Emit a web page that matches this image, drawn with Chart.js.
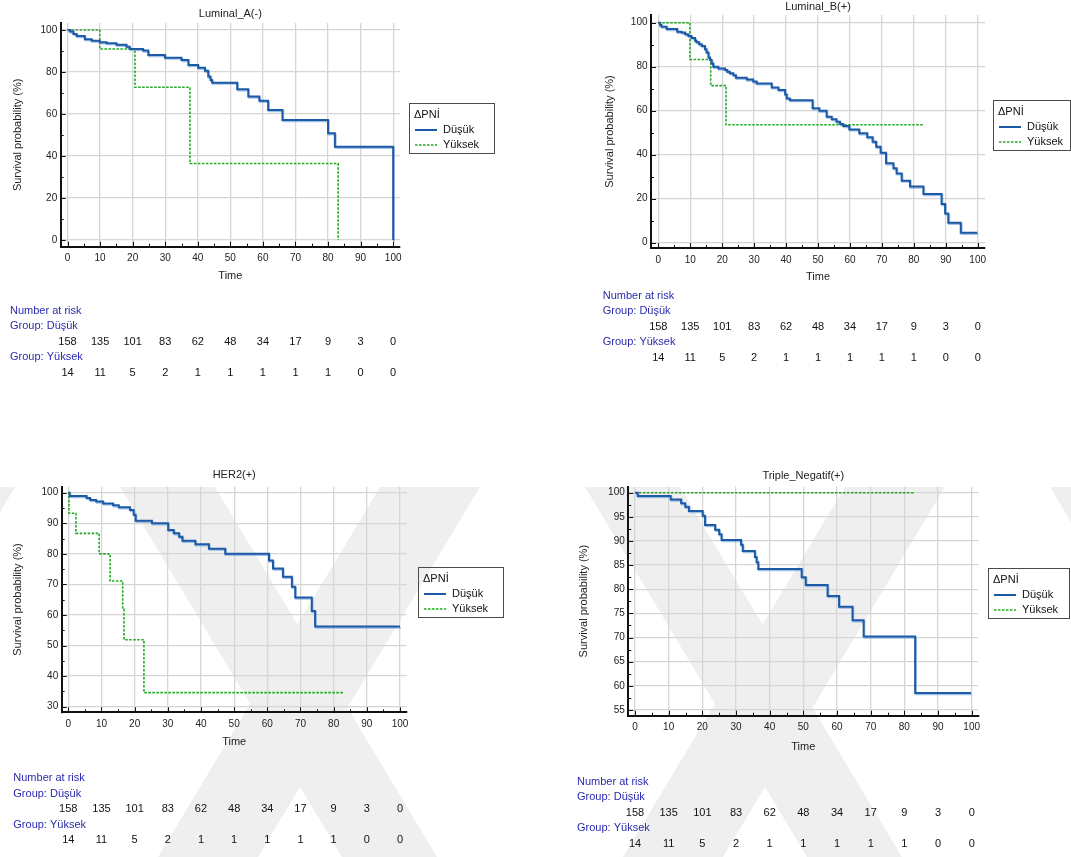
<!DOCTYPE html>
<html>
<head>
<meta charset="utf-8">
<title>Kaplan-Meier survival by ΔPNİ</title>
<script src="https://cdn.jsdelivr.net/npm/chart.js@4.4.1/dist/chart.umd.min.js"></script>
<style>
  html, body { margin: 0; padding: 0; background: #fff; }
  #page { position: relative; width: 1071px; height: 857px; overflow: hidden; }
  #wm { position: absolute; left: 0; top: 0; }
  canvas.km { position: absolute; }
</style>
</head>
<body>
<div id="page">
  <svg id="wm" width="1071" height="857"></svg>
  <canvas id="c0" class="km" width="535" height="390" style="left:0px;top:0px"></canvas>
  <canvas id="c1" class="km" width="535" height="390" style="left:536px;top:0px"></canvas>
  <canvas id="c2" class="km" width="535" height="417" style="left:0px;top:440px"></canvas>
  <canvas id="c3" class="km" width="535" height="417" style="left:536px;top:440px"></canvas>
</div>
<script>
// ---------- data ----------
const panelTitles = ['Luminal_A(-)', 'Luminal_B(+)', 'HER2(+)', 'Triple_Negatif(+)'];
const groupNames = ['Düşük', 'Yüksek'];
const legendTitle = 'ΔPNİ';

const xTicks = [0, 10, 20, 30, 40, 50, 60, 70, 80, 90, 100];
const yTicksWide = [0, 20, 40, 60, 80, 100];
const yTicksHer2 = [30, 40, 50, 60, 70, 80, 90, 100];
const yTicksTriple = [55, 60, 65, 70, 75, 80, 85, 90, 95, 100];

// number at risk, read at the x-axis ticks
const riskTimes = [0, 10, 20, 30, 40, 50, 60, 70, 80, 90, 100];
const riskLow = [158, 135, 101, 83, 62, 48, 34, 17, 9, 3, 0];
const riskHigh = [14, 11, 5, 2, 1, 1, 1, 1, 1, 0, 0];

// Luminal_A(-)
const lumA_lowT = [0, 0.8, 1.8, 2.8, 5.3, 7.4, 9.9, 12, 15, 18.1, 19.1, 23.2, 24.8, 29.9, 35, 37.1, 40.1, 42.2, 43.2, 43.9, 44.4, 52.1, 55.5, 58.9, 61.6, 66, 80, 82.1, 100, 100];
const lumA_lowS = [100, 99.2, 98.1, 97.1, 95.6, 94.9, 94.1, 93.7, 92.9, 92, 90.9, 90.2, 88.1, 86.8, 85.7, 83.3, 82, 80.6, 77.8, 76.2, 74.9, 71.7, 68.3, 66.3, 61.9, 57.1, 50.8, 44.4, 44.4, 0];
const lumA_highT = [0, 9.9, 20.7, 37.6, 83.1];
const lumA_highS = [100, 90.9, 72.7, 36.4, 0];

// Luminal_B(+)
const lumB_lowT = [0, 0.5, 1, 2.6, 5.9, 7.3, 8.4, 9.4, 10.4, 11.5, 12, 12.8, 13.6, 14.6, 15.1, 15.7, 16.2, 16.7, 17.2, 18.8, 20.9, 21.6, 22.4, 23.5, 24.3, 27.7, 29.7, 30.8, 35.5, 37.6, 39.7, 40.2, 41.2, 48.3, 50.4, 52.7, 54.3, 55.8, 56.9, 57.9, 59.8, 62.9, 65.4, 67.1, 68.2, 69.6, 71.3, 73.6, 74.6, 76.2, 78.8, 83, 88.7, 89.8, 90.8, 94.7, 99.9];
const lumB_lowS = [100, 98.9, 98.2, 97.1, 95.9, 95.5, 94.7, 93.9, 93, 91.8, 91.1, 90.2, 89.4, 87.9, 86.4, 84.2, 83, 81.5, 80, 79.2, 78.5, 77.7, 77, 76.1, 75, 74.2, 73.3, 72.4, 70.6, 69.4, 67.4, 65.6, 64.8, 61.1, 60, 57.3, 56.1, 55, 53.9, 53, 51.5, 49.7, 47.9, 45.9, 43.6, 40.9, 36.1, 33.8, 31.5, 28.2, 25.5, 22.1, 17.6, 13.3, 9.1, 4.5, 4.5];
const lumB_highT = [0, 9.9, 16.4, 21.2, 83];
const lumB_highS = [100, 83.3, 71.4, 53.6, 53.6];

// HER2(+)
const her2_lowT = [0, 0.4, 5.5, 6.6, 8.4, 10.5, 13.5, 15.2, 18.6, 19.7, 20.3, 25.2, 30.1, 31.8, 33.4, 34.4, 38.3, 42.4, 47.3, 60.5, 61.7, 64.7, 67.4, 68.4, 73.4, 74.4, 100];
const her2_lowS = [100, 98.9, 98.3, 97.6, 97.1, 96.5, 95.9, 95.2, 94.3, 92.8, 90.8, 90, 87.8, 86.7, 85.6, 84.3, 83.1, 81.7, 80, 77.8, 75.2, 72.5, 69.2, 65.7, 61.3, 56.2, 56.2];
const her2_highT = [0, 0.2, 2.3, 9.3, 12.6, 16.4, 16.8, 22.8, 83.2];
const her2_highS = [100, 93.3, 86.7, 80, 71.1, 61.9, 51.9, 34.6, 34.6];

// Triple_Negatif(+)
const tn_lowT = [0, 0.8, 10.6, 13.7, 14.9, 16, 20.1, 20.8, 23.8, 25, 25.7, 31.5, 32, 35.6, 36.1, 36.6, 49.5, 50.7, 57.2, 60.6, 64.6, 67.9, 83.2, 99.8];
const tn_lowS = [100, 99.3, 98.6, 97.8, 97.1, 96.2, 95.2, 93.3, 92.3, 91.4, 90.2, 89.2, 87.9, 86.7, 85.6, 84.2, 82.5, 80.9, 78.6, 76.4, 73.6, 70.2, 58.5, 58.5];
const tn_highT = [0, 83];
const tn_highS = [100, 100];

// ---------- styling ----------
const FONT = "'Liberation Sans', Arial, sans-serif";
const BLUE = '#1d5aa5';
const GREEN = '#1faa1f';
const GRID = '#d6d6d6';
const AXIS = '#111';
const NAVY = '#2a2aae';
const TEXT = '#222';

Chart.defaults.font.family = FONT;
Chart.defaults.color = TEXT;

// faint background watermark bands
(function drawWatermark() {
  const svg = document.getElementById('wm');
  const top = 487, bottom = 857, shift = 222;
  const bands = [];
  [-165, 300, 765, 1230].forEach(cx => {
    bands.push([[cx - 180, top], [cx - 85, top], [cx - 85 + shift, bottom], [cx - 180 + shift, bottom]]);
    bands.push([[cx + 80, top], [cx + 180, top], [cx + 180 - shift, bottom], [cx + 80 - shift, bottom]]);
  });
  svg.innerHTML = bands.map(b =>
    '<polygon fill="#efefef" points="' + b.map(p => p.join(',')).join(' ') + '"/>').join('');
})();

function toPoints(T, S) { return T.map((t, i) => ({ x: t, y: S[i] })); }

// panel layout: ranges, paddings, legend and risk table anchors (canvas coordinates)
const panels = [
  { id: 'c0', title: panelTitles[0], low: [lumA_lowT, lumA_lowS], high: [lumA_highT, lumA_highS], yTicks: yTicksWide,
    xr: [-2.1, 102.1], yr: [-3.2, 103.3], pad: { left: 11.7, right: 135, top: 0, bottom: 107.3 },
    wy: 49, hx: 36, titlePad: { top: 7.4, bottom: 2.4 },
    legend: { x: 409, y: 103, w: 85 }, table: { x: 10, y: 310.7 } },
  { id: 'c1', title: panelTitles[1], low: [lumB_lowT, lumB_lowS], high: [lumB_highT, lumB_highS], yTicks: yTicksWide,
    xr: [-2.29, 102.29], yr: [-2.41, 103.5], pad: { left: 67.4, right: 86, top: 0, bottom: 106.7 },
    wy: 47.6, hx: 35.3, titlePad: { top: 0.1, bottom: 1.7 },
    legend: { x: 457, y: 100, w: 77 }, table: { x: 66.7, y: 295.7 } },
  { id: 'c2', title: panelTitles[2], low: [her2_lowT, her2_lowS], high: [her2_highT, her2_highS], yTicks: yTicksHer2,
    xr: [-1.99, 102.02], yr: [28.17, 101.96], pad: { left: 11.7, right: 128.3, top: 0, bottom: 108.1 },
    wy: 50, hx: 36.6, titlePad: { top: 28.4, bottom: 5.1 },
    legend: { x: 418, y: 127, w: 85 }, table: { x: 13.3, y: 338.3 } },
  { id: 'c3', title: panelTitles[3], low: [tn_lowT, tn_lowS], high: [tn_highT, tn_highS], yTicks: yTicksTriple,
    xr: [-1.99, 101.96], yr: [53.82, 101.24], pad: { left: 41.4, right: 92.7, top: 0, bottom: 103.7 },
    wy: 50.9, hx: 37.6, titlePad: { top: 29.1, bottom: 4.4 },
    legend: { x: 452, y: 128, w: 81 }, table: { x: 41, y: 341.7 } }
];

function extrasPlugin(cfg) {
  return {
    id: 'kmExtras',
    beforeDatasetDraw(chart, args) {
      const ctx = chart.ctx;
      ctx.save();
      if (args.index === 0) {
        ctx.shadowColor = 'rgba(110,160,220,0.65)';
        ctx.shadowOffsetX = 0.8;
        ctx.shadowOffsetY = 1.2;
        ctx.shadowBlur = 0;
      }
    },
    afterDatasetDraw(chart) { chart.ctx.restore(); },
    afterDraw(chart) {
      const { ctx, chartArea: a, scales: { x, y } } = chart;
      ctx.save();
      // inward tick marks, majors and half-step minors
      ctx.strokeStyle = AXIS; ctx.lineWidth = 1;
      const xs = xTicks[1] - xTicks[0];
      for (let v = xTicks[0]; v <= xTicks[xTicks.length - 1] + 1e-9; v += xs / 2) {
        const px = Math.round(x.getPixelForValue(v)) + 0.5;
        const len = (Math.abs((v - xTicks[0]) % xs) < 1e-6) ? 5 : 3;
        ctx.beginPath(); ctx.moveTo(px, a.bottom); ctx.lineTo(px, a.bottom - len); ctx.stroke();
      }
      const yt = cfg.yTicks, ys = yt[1] - yt[0];
      for (let v = yt[0]; v <= yt[yt.length - 1] + 1e-9; v += ys / 2) {
        const py = Math.round(y.getPixelForValue(v)) + 0.5;
        const len = (Math.abs((v - yt[0]) % ys) < 1e-6) ? 5 : 3;
        ctx.beginPath(); ctx.moveTo(a.left, py); ctx.lineTo(a.left + len, py); ctx.stroke();
      }

      // legend box
      const L = cfg.legend;
      ctx.strokeStyle = '#4a4a4a'; ctx.lineWidth = 1;
      ctx.strokeRect(Math.round(L.x) + 0.5, Math.round(L.y) + 0.5, L.w, 50);
      ctx.font = '11px ' + FONT; ctx.fillStyle = '#111';
      ctx.textBaseline = 'middle'; ctx.textAlign = 'left';
      ctx.fillText(legendTitle, L.x + 5, L.y + 12);
      ctx.strokeStyle = BLUE; ctx.lineWidth = 2; ctx.setLineDash([]);
      ctx.beginPath(); ctx.moveTo(L.x + 6, L.y + 27); ctx.lineTo(L.x + 28, L.y + 27); ctx.stroke();
      ctx.fillText(groupNames[0], L.x + 34, L.y + 27);
      ctx.strokeStyle = GREEN; ctx.lineWidth = 1.6; ctx.setLineDash([2.5, 1.5]);
      ctx.beginPath(); ctx.moveTo(L.x + 6, L.y + 42); ctx.lineTo(L.x + 28, L.y + 42); ctx.stroke();
      ctx.setLineDash([]);
      ctx.fillText(groupNames[1], L.x + 34, L.y + 42);

      // number-at-risk table under the axis
      const T = cfg.table;
      ctx.fillStyle = NAVY; ctx.textAlign = 'left';
      ctx.fillText('Number at risk', T.x, T.y);
      ctx.fillText('Group: ' + groupNames[0], T.x, T.y + 15.5);
      ctx.fillText('Group: ' + groupNames[1], T.x, T.y + 46.5);
      ctx.fillStyle = '#111'; ctx.textAlign = 'center';
      riskTimes.forEach((t, i) => {
        const px = x.getPixelForValue(t);
        ctx.fillText(String(riskLow[i]), px, T.y + 31);
        ctx.fillText(String(riskHigh[i]), px, T.y + 62);
      });
      ctx.restore();
    }
  };
}

panels.forEach(cfg => {
  new Chart(document.getElementById(cfg.id), {
    type: 'line',
    data: {
      datasets: [
        { label: groupNames[0], data: toPoints(cfg.low[0], cfg.low[1]), borderColor: BLUE, borderWidth: 2,
          stepped: 'before', pointRadius: 0, fill: false },
        { label: groupNames[1], data: toPoints(cfg.high[0], cfg.high[1]), borderColor: GREEN, borderWidth: 1.6,
          borderDash: [2.5, 1.5], stepped: 'before', pointRadius: 0, fill: false }
      ]
    },
    options: {
      responsive: false, animation: false, devicePixelRatio: 1,
      layout: { padding: cfg.pad },
      plugins: {
        legend: { display: false },
        tooltip: { enabled: false },
        title: { display: true, text: cfg.title, fullSize: false, color: TEXT,
                 font: { size: 11, weight: 'normal' }, padding: cfg.titlePad }
      },
      scales: {
        x: {
          type: 'linear', min: cfg.xr[0], max: cfg.xr[1],
          afterBuildTicks: s => { s.ticks = xTicks.map(v => ({ value: v })); },
          afterFit: s => { s.height = cfg.hx; },
          grid: { color: GRID, lineWidth: 1.3, drawTicks: false },
          border: { color: AXIS, width: 2 },
          ticks: { padding: 6, color: TEXT, font: { size: 10 } },
          title: { display: true, text: 'Time', color: TEXT, font: { size: 11 }, padding: 0 }
        },
        y: {
          type: 'linear', min: cfg.yr[0], max: cfg.yr[1],
          afterBuildTicks: s => { s.ticks = cfg.yTicks.map(v => ({ value: v })); },
          afterFit: s => { s.width = cfg.wy; },
          grid: { color: GRID, lineWidth: 1.3, drawTicks: false },
          border: { color: AXIS, width: 2 },
          ticks: { padding: 3.5, color: TEXT, font: { size: 10 } },
          title: { display: true, text: 'Survival probability (%)', color: TEXT, font: { size: 11 }, padding: 0 }
        }
      }
    },
    plugins: [extrasPlugin(cfg)]
  });
});
</script>
</body>
</html>
